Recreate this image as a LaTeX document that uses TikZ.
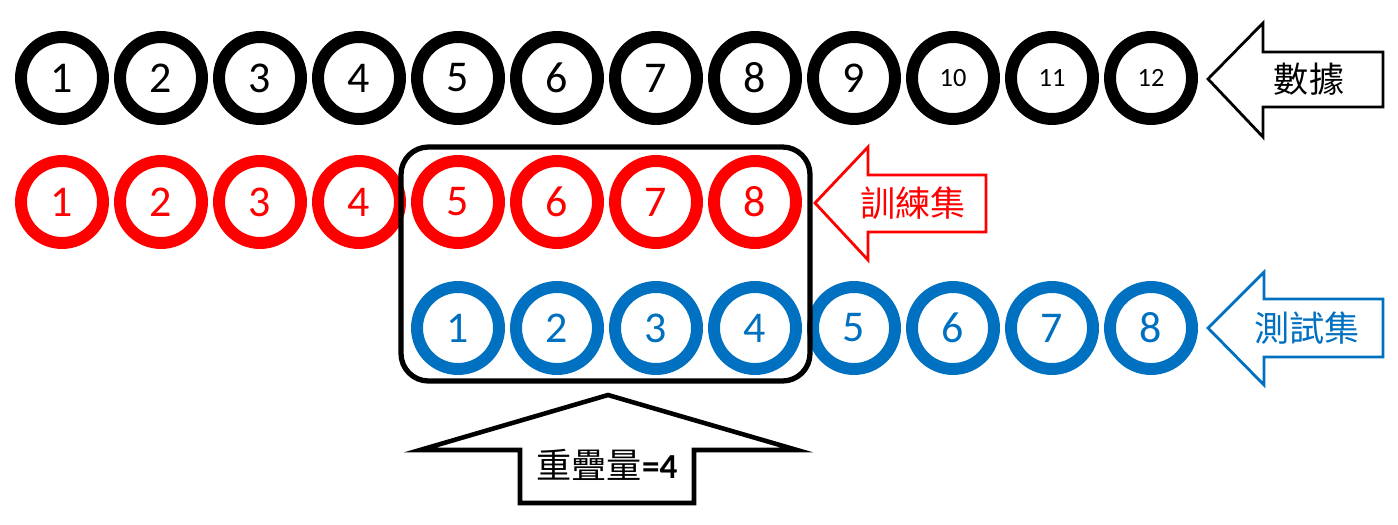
\documentclass[tikz,border=0pt]{standalone}
\usepackage{fontspec}
\setmainfont{Carlito}
\newfontfamily\cjk{Noto Sans CJK TC}
\usepackage{xcolor}
\usetikzlibrary{positioning}
\definecolor{trainred}{RGB}{255,0,0}
\definecolor{testblue}{RGB}{0,112,192}

\begin{document}
\begin{tikzpicture}[x=0.02cm, y=-0.02cm,
      every node/.style={inner sep=0pt},
      ball/.style={circle, draw, line width=6.8pt, minimum size=1.64cm,
        font=\fontsize{25}{25}\selectfont},
      smallball/.style={ball, font=\fontsize{15}{15}\selectfont},
      blockarrow/.style={line width=1.6pt, fill=white, line join=miter},
      arrowtext/.style={font=\fontsize{20}{20}\cjk}
    ]
    \useasboundingbox (0,0) rectangle (1398,524);

    % data row
    \foreach \i in {1,...,9}
        \node[ball] (d\i) at ({62+99*(\i-1)},78) {\i};
    \foreach \i in {10,11,12}
        \node[smallball] (d\i) at ({62+99*(\i-1)},78) {\i};

    % training set
    \foreach \i in {1,...,8}
        \node[ball, draw=trainred, text=trainred] (r\i) at ({62+99*(\i-1)},202) {\i};

    % test set
    \foreach \i in {1,...,8}
        \node[ball, draw=testblue, text=testblue] (t\i) at ({458+99*(\i-1)},328) {\i};

    % overlap box
    \draw[line width=3pt, rounded corners=0.55cm] (401,147) rectangle (810,381);

    % left arrows
    \draw[blockarrow] (1208,79) -- (1263,23) -- (1263,52) -- (1383,52)
        -- (1383,107) -- (1263,107) -- (1263,137) -- cycle;
    \node[arrowtext] (data) at (1309,79) {數據};

    \draw[blockarrow, draw=trainred] (815,203) -- (868,147) -- (868,175) -- (986,175)
        -- (986,232) -- (868,232) -- (868,260) -- cycle;
    \node[arrowtext, text=trainred] (train) at (913,203) {訓練集};

    \draw[blockarrow, draw=testblue] (1208,328) -- (1264,272) -- (1264,299) -- (1383,299)
        -- (1383,357) -- (1264,357) -- (1264,385) -- cycle;
    \node[arrowtext, text=testblue] (test) at (1307,328) {測試集};

    % up arrow
    \draw[blockarrow, line width=2.6pt] (608,395) -- (797,450) -- (694,450) -- (694,503)
        -- (520,503) -- (520,450) -- (420,450) -- cycle;
    \node[font=\fontsize{20}{20}\selectfont] (overlap) at (607,465)
        {{\cjk 重疊量}\textbf{=4}};
\end{tikzpicture}
\end{document}
